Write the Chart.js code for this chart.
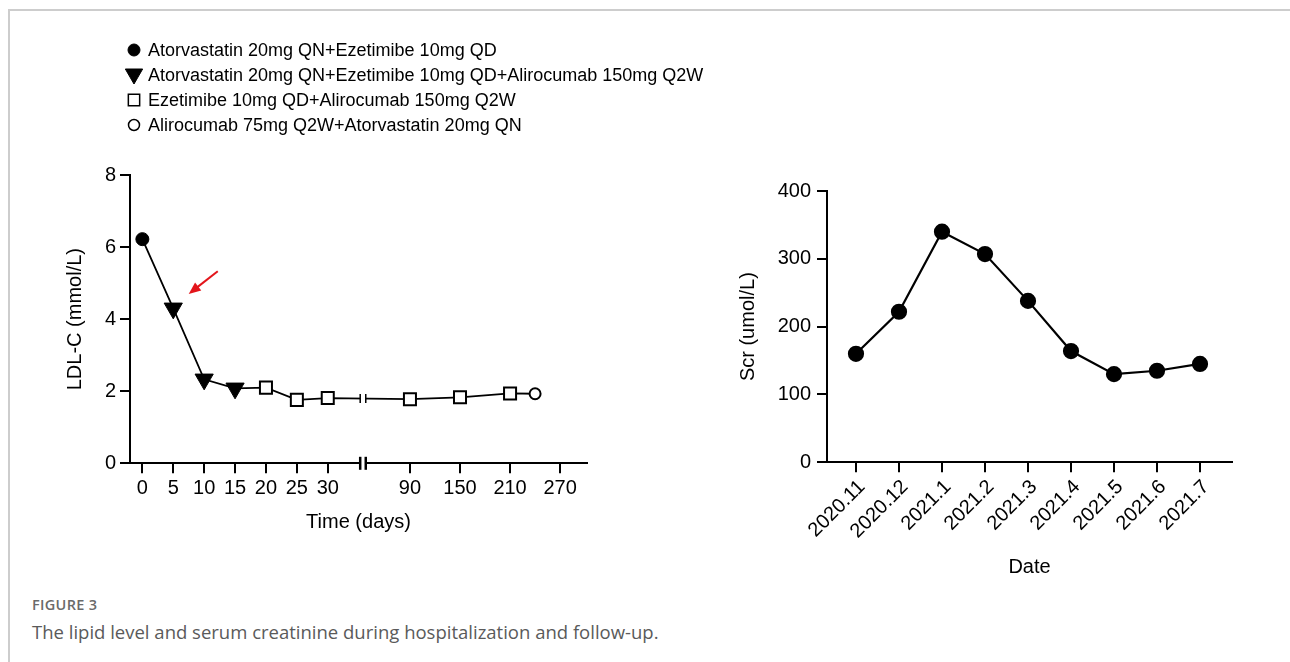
<!DOCTYPE html>
<html>
<head>
<meta charset="utf-8">
<script src="https://cdn.jsdelivr.net/npm/chart.js@4/dist/chart.umd.min.js"></script>
<style>
  html, body { margin: 0; padding: 0; background: #fff; }
  body { width: 1290px; height: 662px; position: relative; overflow: hidden; }
  .frame { position: absolute; left: 8px; top: 9px; right: -4px; bottom: -4px;
           border-top: 2px solid #cdcdcd; border-left: 2px solid #cdcdcd; }
  #ldlBox { position: absolute; left: 40px; top: 20px; width: 680px; height: 525px; }
  #scrBox { position: absolute; left: 730px; top: 170px; width: 520px; height: 420px; }
  .fig-label { position: absolute; left: 32px; top: 595px; font: 600 14.5px "Open Sans", sans-serif;
               color: #6a6a6a; letter-spacing: 0.3px; }
  .fig-caption { position: absolute; left: 32px; top: 619px; font: 18.5px "Open Sans", sans-serif; color: #5a5a5a; }
</style>
</head>
<body>
<div class="frame"></div>
<div id="ldlBox"><canvas id="ldlChart"></canvas></div>
<div id="scrBox"><canvas id="scrChart"></canvas></div>
<div class="fig-label">FIGURE 3</div>
<div class="fig-caption">The lipid level and serum creatinine during hospitalization and follow-up.</div>

<script>
// ---- data: LDL-C panel ----
const regimens = [
  'Atorvastatin 20mg QN+Ezetimibe 10mg QD',
  'Atorvastatin 20mg QN+Ezetimibe 10mg QD+Alirocumab 150mg Q2W',
  'Ezetimibe 10mg QD+Alirocumab 150mg Q2W',
  'Alirocumab 75mg Q2W+Atorvastatin 20mg QN'
];
const days = [0, 5, 10, 15, 20, 25, 30, 90, 150, 210, 240];
const ldl = [6.22, 4.3, 2.33, 2.08, 2.1, 1.76, 1.81, 1.78, 1.83, 1.94, 1.93];
const regimenOf = [0, 1, 1, 1, 2, 2, 2, 2, 2, 2, 3];
const dayTicks = [0, 5, 10, 15, 20, 25, 30, 90, 150, 210, 270];
const ldlTicks = [0, 2, 4, 6, 8];
// red arrow (day, mmol/L) from -> to
const arrowFrom = [12.2, 5.33];
const arrowTo = [7.5, 4.7];

// ---- data: Scr panel ----
const months = ['2020.11', '2020.12', '2021.1', '2021.2', '2021.3', '2021.4', '2021.5', '2021.6', '2021.7'];
const scr = [160, 222, 340, 307, 238, 164, 130, 135, 145];

const FONT = '"Liberation Sans", Arial, sans-serif';

// broken x axis: 0-35 days at 5 days per unit, then 60 days per 1.62 units
const BREAK_LO = 7.05, BREAK_HI = 7.23;
function dayToPos(d) {
  return d <= 35 ? d / 5 : 8.66 + (d - 90) / 60 * 1.62;
}

const markerStyles = [
  {pointStyle: 'circle', radius: 6.5, bg: '#000', bw: 1, legendRadius: 6},
  {pointStyle: 'triangle', rotation: 180, radius: 10.5, bg: '#000', bw: 1, legendRadius: 10},
  {pointStyle: 'rect', radius: 8.5, bg: '#fff', bw: 2, legendRadius: 8},
  {pointStyle: 'circle', radius: 5.5, bg: '#fff', bw: 2, legendRadius: 5.5}
];

const legendPlugin = {
  id: 'markerLegend',
  afterDraw(chart, args, opts) {
    if (!opts.show) return;
    const ctx = chart.ctx;
    ctx.save();
    ctx.font = '18px ' + FONT;
    ctx.textBaseline = 'middle';
    chart.data.datasets.slice(1).forEach((ds, i) => {
      const y = opts.top + i * opts.rowGap;
      ctx.fillStyle = ds.backgroundColor;
      ctx.strokeStyle = '#000';
      ctx.lineWidth = ds.borderWidth > 1 ? 1.5 : 1;
      Chart.helpers.drawPoint(ctx, {
        pointStyle: ds.pointStyle, rotation: ds.pointRotation || 0,
        radius: ds.legendRadius, borderWidth: ctx.lineWidth
      }, opts.x, ds.pointRotation ? y - 1 : y);
      ctx.fillStyle = '#000';
      ctx.fillText(ds.label, opts.x + 14, y + 1);
    });
    ctx.restore();
  }
};

const breakPlugin = {
  id: 'axisBreak',
  afterDatasetsDraw(chart, args, opts) {
    if (!opts.show) return;
    const {ctx, scales: {x, y}} = chart;
    const x1 = x.getPixelForValue(BREAK_LO), x2 = x.getPixelForValue(BREAK_HI);
    ctx.save();
    ctx.strokeStyle = '#000';
    // on the axis
    const ay = y.getPixelForValue(0);
    ctx.fillStyle = '#fff';
    ctx.fillRect(x1, ay - 2, x2 - x1, 4);
    ctx.lineWidth = 2.5;
    [x1, x2].forEach(px => {
      ctx.beginPath(); ctx.moveTo(px, ay - 6.5); ctx.lineTo(px, ay + 6.5); ctx.stroke();
    });
    // on the data line, between the last point before and first point after the break
    const pos = days.map(dayToPos);
    const k = pos.findIndex(p => p > BREAK_LO);
    const t = (BREAK_LO - pos[k - 1]) / (pos[k] - pos[k - 1]);
    const v = ldl[k - 1] + t * (ldl[k] - ldl[k - 1]);
    const ly = y.getPixelForValue(v);
    ctx.fillRect(x1, ly - 2, x2 - x1, 4);
    ctx.lineWidth = 1.5;
    [x1, x2].forEach(px => {
      ctx.beginPath(); ctx.moveTo(px, ly - 4.5); ctx.lineTo(px, ly + 4.5); ctx.stroke();
    });
    // red arrow
    const fx = x.getPixelForValue(dayToPos(arrowFrom[0])), fy = y.getPixelForValue(arrowFrom[1]);
    const tx = x.getPixelForValue(dayToPos(arrowTo[0])), ty = y.getPixelForValue(arrowTo[1]);
    const ang = Math.atan2(ty - fy, tx - fx);
    const c = Math.cos(ang), s = Math.sin(ang);
    ctx.strokeStyle = '#e3151b';
    ctx.fillStyle = '#e3151b';
    ctx.lineWidth = 2;
    ctx.beginPath();
    ctx.moveTo(fx, fy);
    ctx.lineTo(tx - 9 * c, ty - 9 * s);
    ctx.stroke();
    ctx.beginPath();
    ctx.moveTo(tx, ty);
    ctx.lineTo(tx - 12 * c + 5 * s, ty - 12 * s - 5 * c);
    ctx.lineTo(tx - 12 * c - 5 * s, ty - 12 * s + 5 * c);
    ctx.closePath();
    ctx.fill();
    ctx.restore();
  }
};

function axisStyle(extra) {
  return Object.assign({
    border: {color: '#000', width: 2},
    grid: {drawOnChartArea: false, drawTicks: true, tickLength: 10, color: '#000', lineWidth: 2},
  }, extra);
}

// ---- LDL-C chart ----
const ldlDatasets = [{
  label: 'line',
  data: days.map((d, i) => ({x: dayToPos(d), y: ldl[i]})),
  showLine: true,
  borderColor: '#000',
  borderWidth: 1.8,
  pointRadius: 0,
  order: 10
}];
regimens.forEach((name, r) => {
  const m = markerStyles[r];
  ldlDatasets.push({
    label: name,
    data: days.map((d, i) => ({x: dayToPos(d), y: ldl[i], r: regimenOf[i]}))
      .filter(p => p.r === r),
    showLine: false,
    pointStyle: m.pointStyle,
    pointRotation: m.rotation || 0,
    pointRadius: m.radius,
    backgroundColor: m.bg,
    borderColor: '#000',
    borderWidth: m.bw,
    legendRadius: m.legendRadius,
    clip: false,
    order: 1
  });
});

new Chart(document.getElementById('ldlChart'), {
  type: 'scatter',
  data: {datasets: ldlDatasets},
  plugins: [legendPlugin, breakPlugin],
  options: {
    responsive: true,
    maintainAspectRatio: false,
    animation: false,
    layout: {padding: {top: 155, right: 133, left: 0, bottom: 0}},
    plugins: {
      legend: {display: false},
      tooltip: {enabled: false},
      markerLegend: {show: true, x: 94, top: 30, rowGap: 25},
      axisBreak: {show: true}
    },
    scales: {
      x: axisStyle({
        type: 'linear',
        min: -0.4,
        max: 14.39,
        afterBuildTicks: s => { s.ticks = dayTicks.map(d => ({value: dayToPos(d)})); },
        afterFit: s => { s.height = 81.7; },
        ticks: {
          autoSkip: false, maxRotation: 0, color: '#000', padding: 3,
          font: {family: FONT, size: 20},
          callback: (v, i) => dayTicks[i]
        },
        title: {display: true, text: 'Time (days)', color: '#000',
                font: {family: FONT, size: 20}, padding: {top: 0, bottom: 11}}
      }),
      y: axisStyle({
        min: 0,
        max: 8,
        afterBuildTicks: s => { s.ticks = ldlTicks.map(v => ({value: v})); },
        afterFit: s => { s.width = 90; },
        ticks: {color: '#000', padding: 4, font: {family: FONT, size: 20}},
        title: {display: true, text: 'LDL-C (mmol/L)', color: '#000',
                font: {family: FONT, size: 20}, padding: {top: 23, bottom: 0}}
      })
    }
  }
});

// ---- Scr chart ----
new Chart(document.getElementById('scrChart'), {
  type: 'scatter',
  data: {
    datasets: [{
      label: 'Scr',
      data: scr.map((v, i) => ({x: i, y: v})),
      showLine: true,
      borderColor: '#000',
      borderWidth: 2.2,
      pointStyle: 'circle',
      pointRadius: 7,
      backgroundColor: '#000',
      clip: false
    }]
  },
  options: {
    responsive: true,
    maintainAspectRatio: false,
    animation: false,
    layout: {padding: {top: 21, right: 18, left: 0, bottom: 0}},
    plugins: {legend: {display: false}, tooltip: {enabled: false}},
    scales: {
      x: axisStyle({
        type: 'linear',
        min: -0.674,
        max: 8.744,
        afterBuildTicks: s => { s.ticks = months.map((m, i) => ({value: i})); },
        afterFit: s => { s.height = 127.7; },
        ticks: {
          autoSkip: false, minRotation: 45, maxRotation: 45, color: '#000', padding: 3,
          labelOffset: 6,
          font: {family: FONT, size: 20},
          callback: (v, i) => months[i]
        },
        title: {display: true, text: 'Date', color: '#000',
                font: {family: FONT, size: 20}, padding: {top: 0, bottom: 11}}
      }),
      y: axisStyle({
        min: 0,
        max: 400,
        ticks: {stepSize: 100, color: '#000', padding: 6, font: {family: FONT, size: 20}},
        afterFit: s => { s.width = 97; },
        title: {display: true, text: 'Scr (umol/L)', color: '#000',
                font: {family: FONT, size: 20}, padding: {top: 6, bottom: 0}}
      })
    }
  }
});
</script>
</body>
</html>
